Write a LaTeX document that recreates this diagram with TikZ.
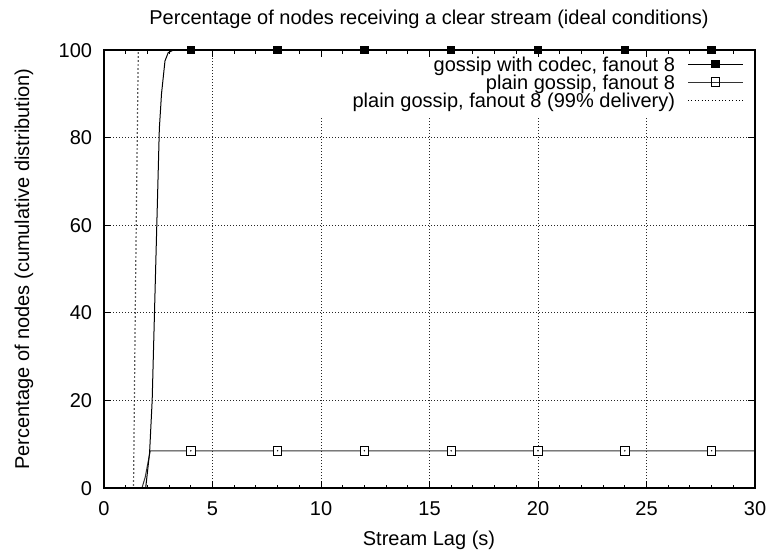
\documentclass[tikz,border=0pt]{standalone}
\usepackage{fontspec}
\setmainfont{Liberation Sans}
\usetikzlibrary{calc}
\begin{document}
\begin{tikzpicture}[x=1pt,y=-1pt,
  font=\fontsize{20}{24}\selectfont,
  txt/.style={inner sep=0pt, outer sep=0pt},
  frame/.style={line width=1.2pt, black},
  tickline/.style={line width=1pt, black},
  gridline/.style={line width=0.9pt, black!85, dash pattern=on 0.9pt off 2.1pt},
  codec/.style={line width=1pt, black, line join=round},
  plain/.style={line width=1pt, black!80, line join=round},
  ideal/.style={line width=1.2pt, black, dash pattern=on 1.2pt off 2.8pt},
  fillmark/.style={fill=black, draw=none, minimum size=8.5pt, inner sep=0pt, outer sep=0pt},
  openmark/.style={draw=black, fill=white, line width=0.9pt, minimum size=8.5pt, inner sep=0pt, outer sep=0pt},
  keymark/.style={draw=black, line width=0.9pt, minimum size=8.5pt, inner sep=0pt, outer sep=0pt}]
\useasboundingbox (0,0) rectangle (770,552);

% title
\node[txt, anchor=base] (title) at (429,24)
  {Percentage of nodes receiving a clear stream (ideal conditions)};

% data area: x in seconds, y in percent
\begin{scope}[shift={(104,488)}, x=21.7pt, y=4.38pt]
  \coordinate (origin) at (0,0);
  \coordinate (corner) at (30,100);

  % grid (cut below the key on the right)
  \draw[gridline] (5,0) -- (5,100);
  \foreach \gx in {10,15,20,25} \draw[gridline] (\gx,0) -- (\gx,84.9);
  \foreach \gy in {20,40,60,80} \draw[gridline] (0,\gy) -- (30,\gy);

  % ticks
  \foreach \t in {1,...,29} {
    \draw[tickline] (\t,0) -- ++(0pt,3.5pt);
    \draw[tickline] (\t,100) -- ++(0pt,-3.5pt);
  }
  \foreach \t in {5,10,...,25} {
    \draw[tickline] (\t,0) -- ++(0pt,7pt);
    \draw[tickline] (\t,100) -- ++(0pt,-7pt);
  }
  \foreach \v in {20,40,...,80} {
    \draw[tickline] (0,\v) -- ++(7pt,0pt);
    \draw[tickline] (30,\v) -- ++(-7pt,0pt);
  }

  % tick labels
  \foreach \t in {0,5,...,30}
    \node[txt, anchor=base, yshift=-27pt] (xt\t) at (\t,0) {\t};
  \foreach \v in {0,20,...,100}
    \node[txt, anchor=base east, xshift=-12pt, yshift=-7pt] (yt\v) at (0,\v) {\v};

  % curves
  \draw[ideal] (0,0) -- (1.36,0) -- (1.45,45) -- (1.58,100);
  \draw[plain] (0,0) -- (1.75,0) -- (1.9,2.5) -- (2.13,8.5) -- (30,8.5);
  \draw[codec] (0,0) -- (1.92,0) -- (2.1,8) -- (2.22,20) -- (2.55,82)
    -- (2.65,90) -- (2.81,97.5) -- (2.96,99.4) -- (3.2,100) -- (30,100);

  % point markers
  \foreach \m in {4,8,...,28} {
    \node[openmark] (pm\m) at (\m,8.5) {};
    \fill (pm\m.center) circle (0.8pt);
    \node[fillmark] (cm\m) at (\m,100) {};
  }

  % frame
  \draw[frame] (origin) rectangle (corner);
\end{scope}

% axis labels
\node[txt, anchor=base] (xlabel) at (429,545) {Stream Lag (s)};
\node[txt, anchor=base, rotate=90] (ylabel) at (29,269)
  {Percentage of nodes (cumulative distribution)};

% key
\node[txt, anchor=base east] (k1) at (675,71) {gossip with codec, fanout 8};
\node[txt, anchor=base east] (k2) at (675,89) {plain gossip, fanout 8};
\node[txt, anchor=base east] (k3) at (675,107) {plain gossip, fanout 8 (99\% delivery)};
\coordinate (k1a) at (688,64); \coordinate (k1b) at (743,64);
\coordinate (k2a) at (688,82); \coordinate (k2b) at (743,82);
\coordinate (k3a) at (688,100); \coordinate (k3b) at (743,100);
\draw[codec] (k1a) -- (k1b);
\node[fillmark] (k1m) at ($(k1a)!0.5!(k1b)$) {};
\draw[plain] (k2a) -- (k2b);
\node[keymark] (k2m) at ($(k2a)!0.5!(k2b)$) {};
\draw[ideal, line width=0.9pt, dash pattern=on 1pt off 2.4pt] (k3a) -- (k3b);
\end{tikzpicture}
\end{document}
